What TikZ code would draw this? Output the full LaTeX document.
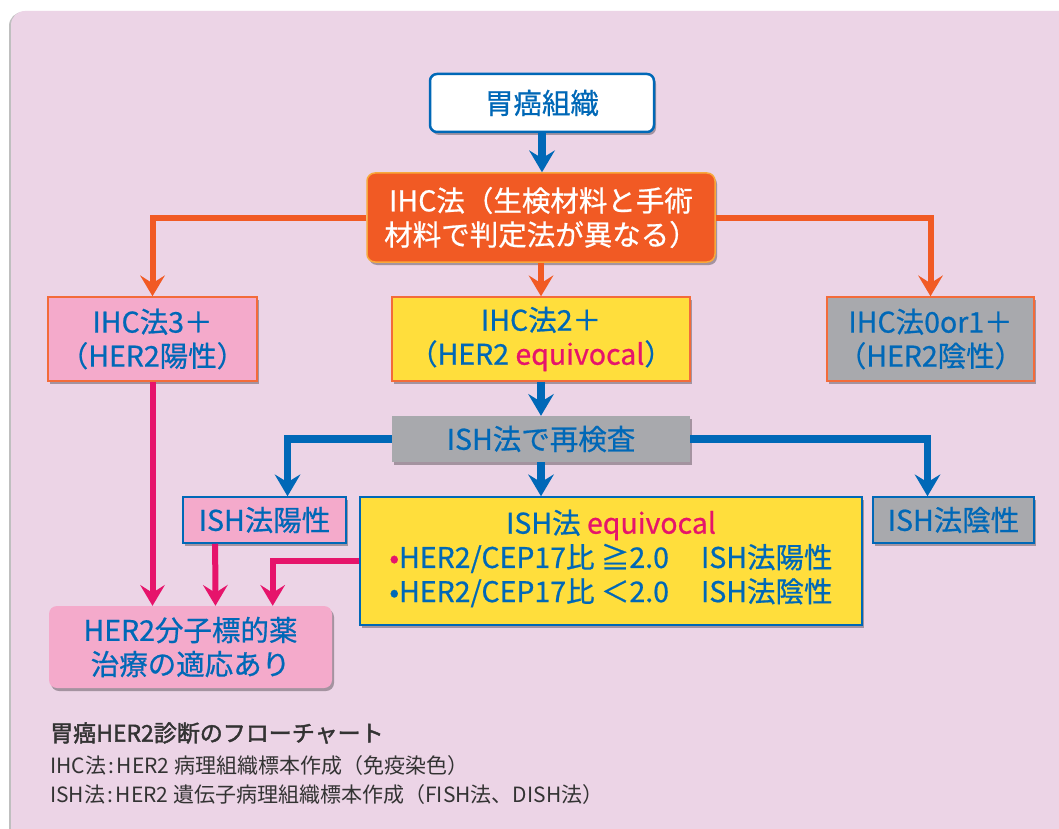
\documentclass[tikz,border=0pt]{standalone}
\usepackage{fontspec}
\setmainfont{Noto Sans CJK JP}
\newfontfamily\boxfont{Noto Sans CJK JP}[FakeBold=0.7]
\newfontfamily\titlefont{Noto Sans CJK JP}[FakeBold=1.8]
\usetikzlibrary{arrows.meta,shadows,calc}
\definecolor{bgpanel}{HTML}{ECD4E6}
\definecolor{cblue}{HTML}{0068B7}
\definecolor{corange}{HTML}{F15A24}
\definecolor{cborder}{HTML}{F36B3A}
\definecolor{clightor}{HTML}{F8A83C}
\definecolor{cpink}{HTML}{F4AACB}
\definecolor{cyellow}{HTML}{FFDE3C}
\definecolor{cgrey}{HTML}{A8A9AD}
\definecolor{cmag}{HTML}{E6146B}
\definecolor{cdark}{HTML}{333333}
\begin{document}
\begin{tikzpicture}[x=1pt,y=-1pt,
  shd/.style={drop shadow={shadow xshift=2pt,shadow yshift=-3pt,opacity=0.3,fill=black}},
  boxtext/.style={font=\boxfont\fontsize{28.5}{34}\selectfont, align=center, inner sep=0pt, text=cblue},
  orbox/.style={boxtext, shd, draw=cborder, line width=1.5pt},
  blbox/.style={boxtext, shd, draw=cblue, line width=1.5pt},
  barrow/.style={draw=cblue, line width=7.5pt, -{Stealth[length=22pt,width=26pt,inset=8pt,line width=0pt]}},
  oarrow/.style={draw=corange, line width=6pt, -{Stealth[length=21pt,width=25pt,inset=8pt,line width=0pt]}},
  marrow/.style={draw=cmag, line width=6pt, -{Stealth[length=21pt,width=25pt,inset=8pt,line width=0pt]}},
  note/.style={anchor=west, inner sep=0pt, text=cdark}
]
\useasboundingbox (0,0) rectangle (1059,829);
\fill[white] (0,0) rectangle (1059,829);
\begin{scope}
  \clip (0,0) rectangle (1059,829);
  \fill[black!25] (9,12) [rounded corners=14pt] rectangle (1080,850);
  \fill[bgpanel] (11,11) [rounded corners=14pt] rectangle (1080,850);
\end{scope}

% nodes
\node[boxtext, shd, fill=white, draw=cblue, line width=2.5pt, rounded corners=7pt,
      minimum width=224pt, minimum height=58pt] (n1) at (542,103) {胃癌組織};
\node[boxtext, shd, fill=corange, draw=clightor, line width=1.5pt, rounded corners=8pt, text=white,
      minimum width=348pt, minimum height=89pt] (n2) at (541,217.5) {IHC法（生検材料と手術\\材料で判定法が異なる）};
\node[orbox, fill=cpink, minimum width=209pt, minimum height=84pt] (n3) at (152.5,339) {IHC法3＋\\（HER2陽性）};
\node[orbox, fill=cyellow, minimum width=298pt, minimum height=84pt] (n4) at (541,339) {IHC法2＋\\（HER2 \textcolor{cmag}{equivocal}）};
\node[orbox, fill=cgrey, minimum width=207pt, minimum height=84pt] (n5) at (930.5,339) {IHC法0or1＋\\（HER2陰性）};
\node[boxtext, shd, fill=cgrey, minimum width=298pt, minimum height=46pt] (n6) at (541,439) {ISH法で再検査};
\node[blbox, fill=cpink, minimum width=163pt, minimum height=46pt] (n7) at (264.5,520) {ISH法陽性};
\node[blbox, fill=cyellow, minimum width=502pt, minimum height=128pt] (n8) at (611,561)
  {\begin{tabular}{@{}l@{\hspace{32pt}}l@{}}
   \multicolumn{2}{@{}c@{}}{ISH法 \textcolor{cmag}{equivocal}}\\
   \textcolor{cmag}{•}HER2/CEP17比 ≧2.0 & ISH法陽性\\
   •HER2/CEP17比 ＜2.0 & ISH法陰性
   \end{tabular}};
\node[blbox, fill=cgrey, minimum width=161pt, minimum height=46pt] (n9) at (953.5,520) {ISH法陰性};
\node[boxtext, shd, fill=cpink, rounded corners=8pt, minimum width=283pt, minimum height=82pt] (n10) at (190.5,647) {HER2分子標的薬\\治療の適応あり};

% connectors
\draw[barrow] (n1.south) -- (n1.south |- n2.north);
\draw[oarrow] (n2.west) -| (n3.north);
\draw[oarrow] (n2.east) -| (n5.north);
\draw[oarrow] (n2.south) -- (n4.north);
\draw[barrow] (n4.south) -- (n6.north);
\draw[barrow] (n6.west) -| ($(n7.north west)!0.64!(n7.north east)$);
\draw[barrow] (n6.east) -| ($(n9.north west)!0.34!(n9.north east)$);
\draw[barrow] (n6.south) -- (n6.south |- n8.north);
\draw[marrow] (n3.south) -- (n3.south |- n10.north);
\draw[marrow] ($(n7.south west)!0.2!(n7.south east)$) -- ($(n10.north west)!0.588!(n10.north east)$);
\draw[marrow] (n8.west) -| ($(n10.north west)!0.79!(n10.north east)$);

% notes
\node[note, font=\titlefont\fontsize{23}{28}\selectfont] (t1) at (50,733) {胃癌HER2診断のフローチャート};
\node[note, font=\fontsize{21}{26}\selectfont] (t2) at (50,766) {IHC法\kern2pt:\kern3pt HER2 病理組織標本作成（免疫染色）};
\node[note, font=\fontsize{21}{26}\selectfont] (t3) at (50,795) {ISH法\kern2pt:\kern3pt HER2 遺伝子病理組織標本作成（FISH法、DISH法）};
\end{tikzpicture}
\end{document}
